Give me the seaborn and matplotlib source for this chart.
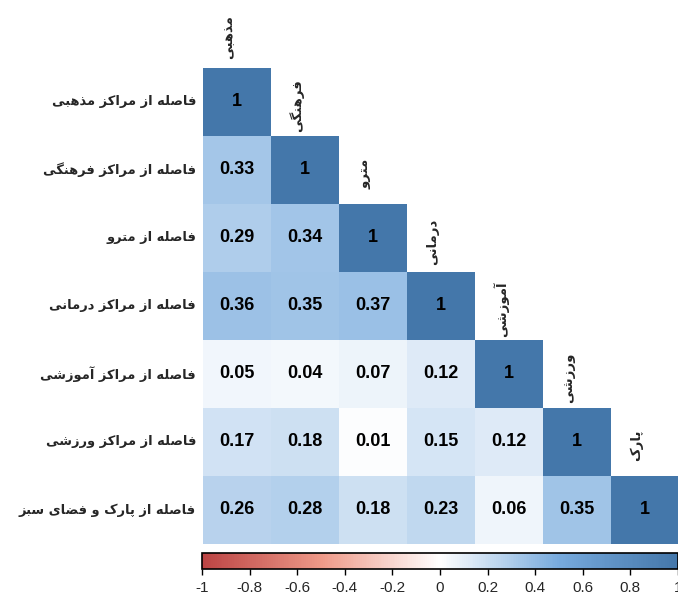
import numpy as np
import pandas as pd
import matplotlib
matplotlib.use("Agg")
import matplotlib.pyplot as plt
from matplotlib.colors import LinearSegmentedColormap
import seaborn as sns

# ---- data -------------------------------------------------------------
row_labels = [
    "فاصله از مراکز مذهبی",
    "فاصله از مراکز فرهنگی",
    "فاصله از مترو",
    "فاصله از مراکز درمانی",
    "فاصله از مراکز آموزشی",
    "فاصله از مراکز ورزشی",
    "فاصله از پارک و فضای سبز",
]
col_labels = ["مذهبی", "فرهنگی", "مترو", "درمانی", "آموزشی", "ورزشی", "پارک"]

lower_values = [
    [1],
    [0.33, 1],
    [0.29, 0.34, 1],
    [0.36, 0.35, 0.37, 1],
    [0.05, 0.04, 0.07, 0.12, 1],
    [0.17, 0.18, 0.01, 0.15, 0.12, 1],
    [0.26, 0.28, 0.18, 0.23, 0.06, 0.35, 1],
]

cbar_ticks = [-1, -0.8, -0.6, -0.4, -0.2, 0, 0.2, 0.4, 0.6, 0.8, 1]
cbar_tick_labels = ["-1", "-0.8", "-0.6", "-0.4", "-0.2", "0", "0.2", "0.4", "0.6", "0.8", "1"]

palette = ["#BB4444", "#EE9988", "#FFFFFF", "#77AADD", "#4477AA"]

# ---- minimal Persian shaping (presentation forms + RTL order) ----------
# forms: (isolated, final, initial, medial); None where a form does not exist
FORMS = {
    "ا": (0xFE8D, 0xFE8E, None, None),
    "آ": (0xFE81, 0xFE82, None, None),
    "ب": (0xFE8F, 0xFE90, 0xFE91, 0xFE92),
    "پ": (0xFB56, 0xFB57, 0xFB58, 0xFB59),
    "ت": (0xFE95, 0xFE96, 0xFE97, 0xFE98),
    "د": (0xFEA9, 0xFEAA, None, None),
    "ذ": (0xFEAB, 0xFEAC, None, None),
    "ر": (0xFEAD, 0xFEAE, None, None),
    "ز": (0xFEAF, 0xFEB0, None, None),
    "س": (0xFEB1, 0xFEB2, 0xFEB3, 0xFEB4),
    "ش": (0xFEB5, 0xFEB6, 0xFEB7, 0xFEB8),
    "ص": (0xFEB9, 0xFEBA, 0xFEBB, 0xFEBC),
    "ض": (0xFEBD, 0xFEBE, 0xFEBF, 0xFEC0),
    "ف": (0xFED1, 0xFED2, 0xFED3, 0xFED4),
    "ک": (0xFB8E, 0xFB8F, 0xFB90, 0xFB91),
    "گ": (0xFB92, 0xFB93, 0xFB94, 0xFB95),
    "ل": (0xFEDD, 0xFEDE, 0xFEDF, 0xFEE0),
    "م": (0xFEE1, 0xFEE2, 0xFEE3, 0xFEE4),
    "ن": (0xFEE5, 0xFEE6, 0xFEE7, 0xFEE8),
    "و": (0xFEED, 0xFEEE, None, None),
    "ه": (0xFEE9, 0xFEEA, 0xFEEB, 0xFEEC),
    "ی": (0xFBFC, 0xFBFD, 0xFBFE, 0xFBFF),
}


def dual(ch):
    return ch in FORMS and FORMS[ch][2] is not None


def shape(text):
    out = []
    for i, ch in enumerate(text):
        if ch not in FORMS:
            out.append(ch)
            continue
        prev_ch = text[i - 1] if i > 0 else ""
        next_ch = text[i + 1] if i + 1 < len(text) else ""
        join_prev = dual(prev_ch)
        join_next = dual(ch) and next_ch in FORMS
        iso, fin, ini, med = FORMS[ch]
        if join_prev and join_next:
            code = med
        elif join_prev:
            code = fin
        elif join_next:
            code = ini
        else:
            code = iso
        out.append(chr(code))
    return "".join(reversed(out))


# ---- matrix -----------------------------------------------------------
n = len(row_labels)
corr = np.zeros((n, n))
for i, row in enumerate(lower_values):
    for j, v in enumerate(row):
        corr[i, j] = v
        corr[j, i] = v
df = pd.DataFrame(corr, index=row_labels, columns=col_labels)
mask = np.triu(np.ones((n, n), dtype=bool), k=1)
annot = np.array([["1" if v == 1 else f"{v:.2f}" for v in r] for r in corr])

cmap = LinearSegmentedColormap.from_list("corr", palette, N=256)

sns.set_theme(style="white")
plt.rcParams["font.family"] = ["Liberation Sans", "DejaVu Sans"]

fig = plt.figure(figsize=(6.78, 6.0), dpi=100)
ax = fig.add_axes([203 / 678, 1 - 544 / 600, 476 / 678, 476 / 600])
cax = fig.add_axes([202 / 678, 1 - 569 / 600, 476 / 678, 16 / 600])

sns.heatmap(
    df, mask=mask, cmap=cmap, vmin=-1, vmax=1, annot=annot, fmt="",
    annot_kws={"fontsize": 13, "fontweight": "bold", "color": "black",
               "family": "Liberation Sans"},
    cbar=True, cbar_ax=cax, cbar_kws={"orientation": "horizontal", "ticks": cbar_ticks},
    square=False, linewidths=0, ax=ax,
)

# row labels on the left
ax.set_yticks(np.arange(n) + 0.5)
ax.set_yticklabels([shape(t) for t in row_labels], rotation=0,
                   fontsize=9.4, fontweight="bold", family="DejaVu Sans")
ax.tick_params(axis="y", length=0, pad=5)
ax.set_xticks([])
ax.set_xlabel("")
ax.set_ylabel("")

# column labels sit just above each diagonal cell
for j, lab in enumerate(col_labels):
    ax.text(j + 0.38, j - 0.45, shape(lab), rotation=90, ha="center", va="center",
            fontsize=9.5, fontweight="bold", family="DejaVu Sans", clip_on=False)

# colour bar styling
cax.set_xticks(cbar_ticks)
cax.set_xticklabels(cbar_tick_labels, fontsize=11)
cax.tick_params(axis="x", direction="out", length=4, width=1, color="black", pad=5)
cbar = ax.collections[0].colorbar
cbar.outline.set_visible(True)
cbar.outline.set_edgecolor("black")
cbar.outline.set_linewidth(1.2)

fig.savefig("out.png", dpi=100)
